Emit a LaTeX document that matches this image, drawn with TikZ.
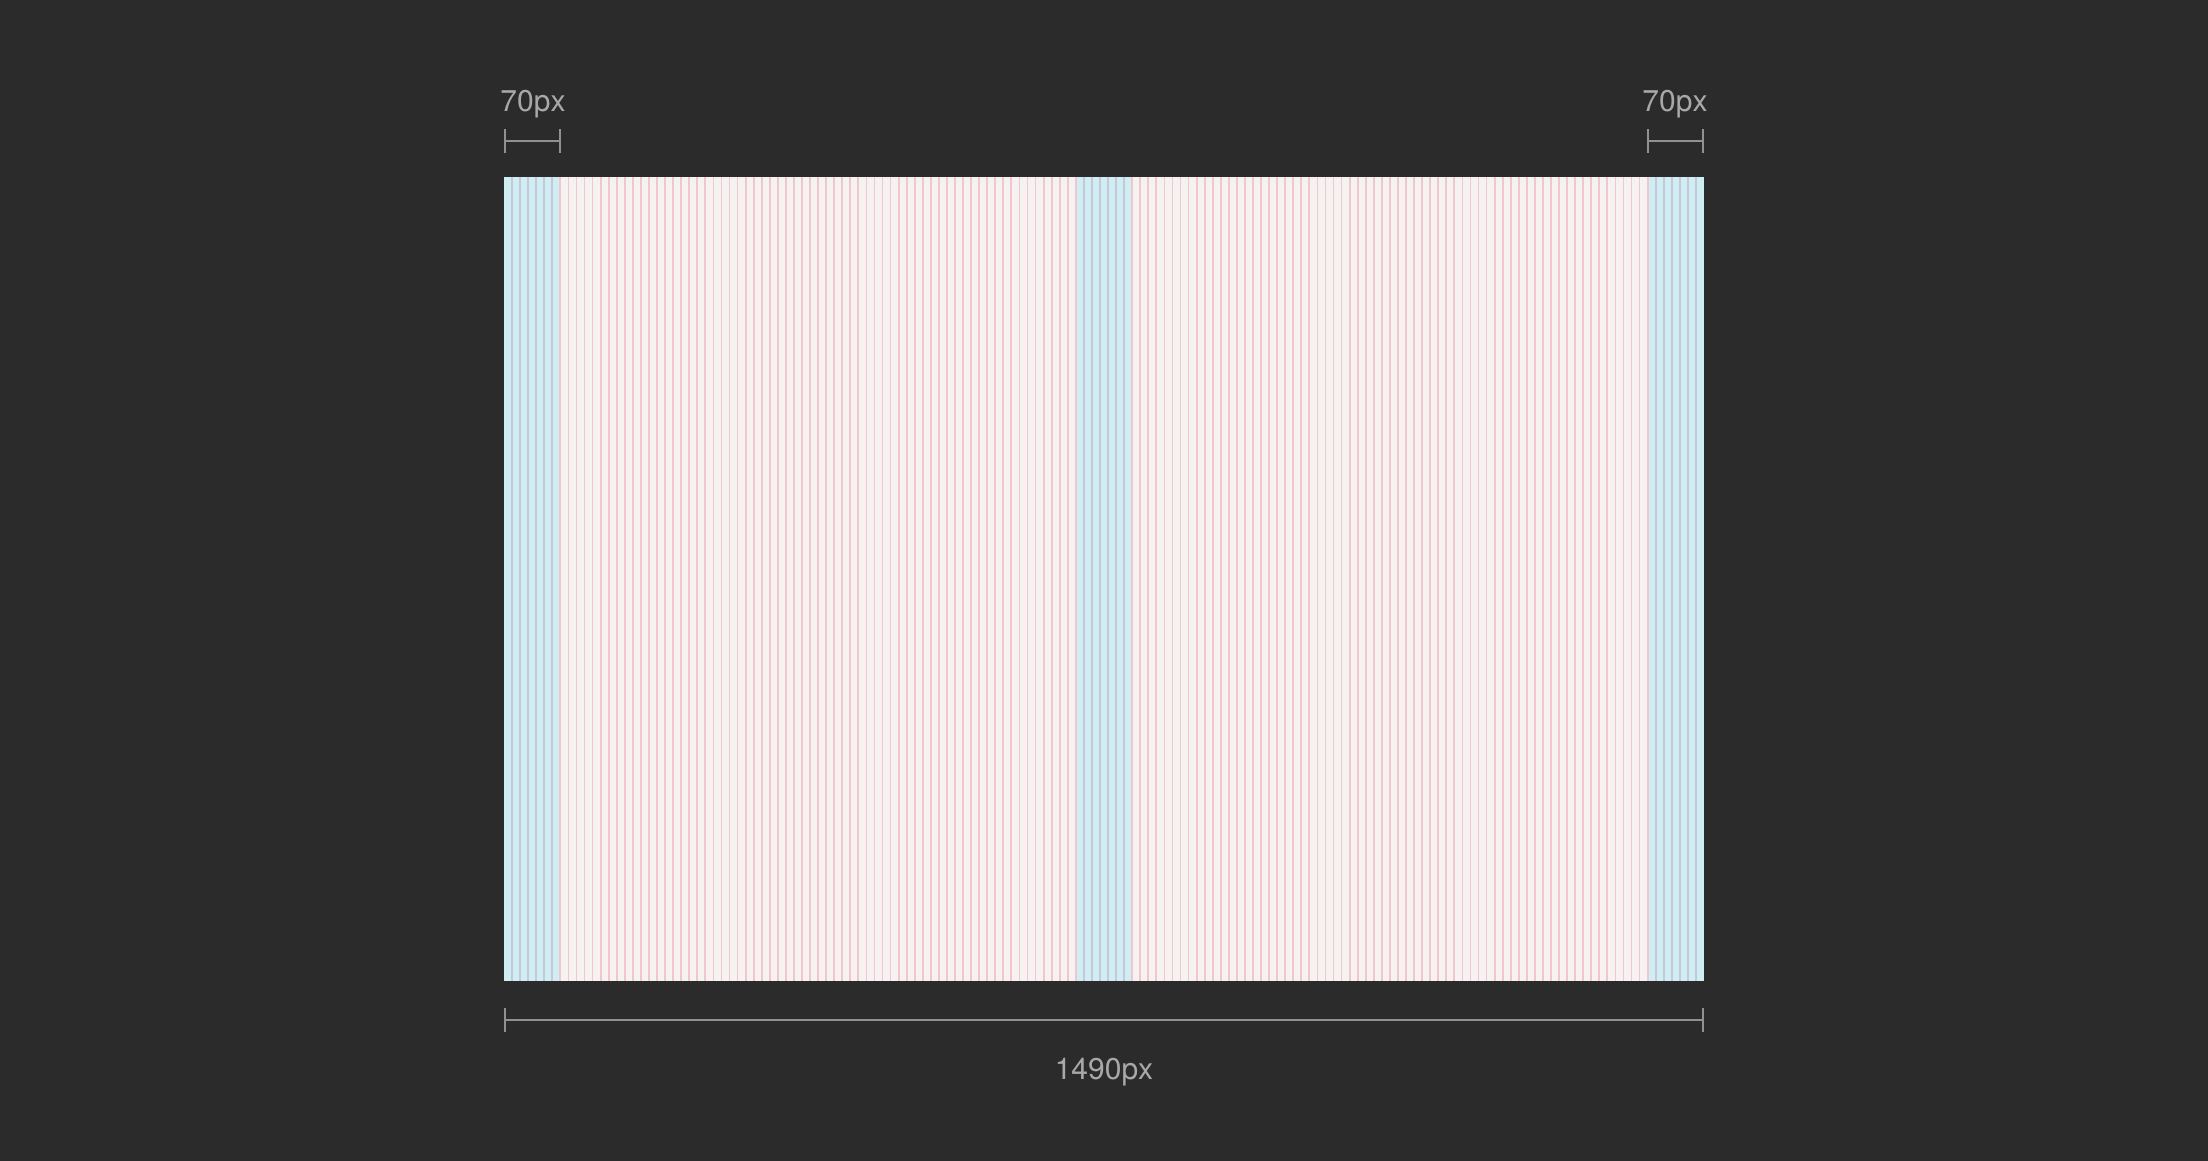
\documentclass[tikz,border=0pt]{standalone}
\usepackage{fontspec}
\setmainfont{TeX Gyre Heros}
\usetikzlibrary{arrows.meta}
\definecolor{bgdark}{HTML}{2B2B2B}
\definecolor{paper}{HTML}{F6F2F2}
\definecolor{colband}{HTML}{CEEEF3}
\definecolor{gridpink}{HTML}{F1C6CC}
\definecolor{gridcol}{HTML}{C9C6D8}
\definecolor{dimgray}{HTML}{919191}
\definecolor{dimtext}{HTML}{A8A8A8}
\tikzset{
  dimline/.style={dimgray, line width=1pt, {Bar[width=12pt]}-{Bar[width=12pt]}},
  dimlabel/.style={dimtext, anchor=base, inner sep=0pt, font=\fontsize{15}{18}\selectfont},
}

\begin{document}
\begin{tikzpicture}[x=.5pt, y=-.5pt]
        \fill[bgdark] (0,0) rectangle (2208,1161);
        \fill[paper] (504,177) rectangle (1704,981);
        \foreach \c in {0,710,1420}
            \fill[colband] ({504+\c*0.80537},177) rectangle ({504+(\c+70)*0.80537},981);
        \foreach \i in {1,...,148}
            \draw[gridpink, line width=.9pt] ({504+\i*8.0537},177) -- ({504+\i*8.0537},981);
        \foreach \c in {0,71,142}
            \foreach \k in {1,...,6}
                \draw[gridcol, line width=.9pt] ({504+(\c+\k)*8.0537},177) -- ({504+(\c+\k)*8.0537},981);
        \coordinate (leftA) at (504,141);
        \coordinate (leftB) at (561,141);
        \coordinate (rightA) at (1647,141);
        \coordinate (rightB) at (1704,141);
        \coordinate (fullA) at (504,1020);
        \coordinate (fullB) at (1704,1020);
        \draw[dimline] (leftA) -- (leftB);
        \draw[dimline] (rightA) -- (rightB);
        \draw[dimline] (fullA) -- (fullB);
        \node[dimlabel] (leftlabel) at (533,112) {70px};
        \node[dimlabel] (rightlabel) at (1675,112) {70px};
        \node[dimlabel] (fulllabel) at (1104,1079) {1490px};
\end{tikzpicture}
\end{document}
